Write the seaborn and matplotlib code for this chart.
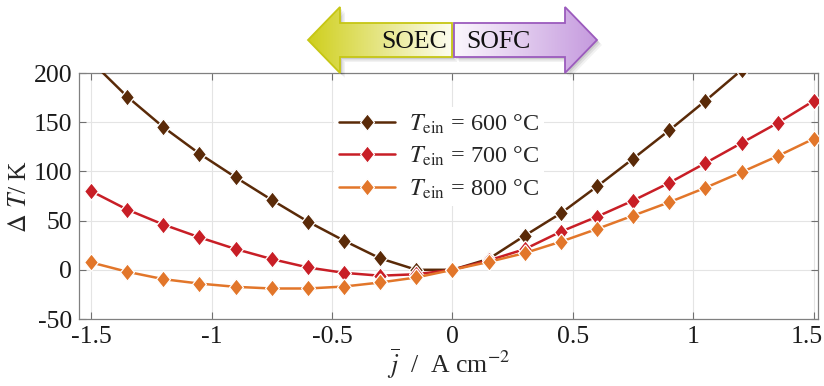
import numpy as np
import pandas as pd
import matplotlib
matplotlib.use("Agg")
import matplotlib.pyplot as plt
import matplotlib.transforms as mtransforms
from matplotlib.patches import Polygon
import seaborn as sns

# mean current density (negative: SOEC, positive: SOFC)
j_mean = [-1.5, -1.35, -1.2, -1.05, -0.9, -0.75, -0.6, -0.45, -0.3, -0.15, 0.0,
          0.15, 0.3, 0.45, 0.6, 0.75, 0.9, 1.05, 1.2, 1.35, 1.5]

# temperature rise over the cell for three inlet temperatures
dT_600 = [212, 176, 145, 118, 94, 71, 49, 29.6, 11.6, 0, 0,
          11, 34.7, 57.5, 84.7, 113, 141.8, 171.8, 203, 235, 267]
dT_700 = [80, 61.2, 46, 33, 21.1, 10.9, 2.4, -3.1, -6, -4.5, 0,
          9.5, 21, 38.8, 54, 70.4, 88.4, 108.5, 128.9, 149.3, 171.8]
dT_800 = [7.5, -2, -9.5, -14, -17.3, -19, -19, -17, -12.9, -7.8, 0,
          8, 17, 28.6, 41.5, 55.1, 68.7, 83.4, 99.3, 115.6, 133.3]

series_labels = [r"$T_\mathrm{ein}$ = 600 °C",
                 r"$T_\mathrm{ein}$ = 700 °C",
                 r"$T_\mathrm{ein}$ = 800 °C"]
colors = ["#5a2a08", "#c81e26", "#e2762a"]

x_ticks = [-1.5, -1, -0.5, 0, 0.5, 1, 1.5]
x_ticklabels = ["-1.5", "-1", "-0.5", "0", "0.5", "1", "1.5"]
y_ticks = [-50, 0, 50, 100, 150, 200]
y_ticklabels = ["-50", "0", "50", "100", "150", "200"]

sns.set_theme(style="white")
plt.rcParams["font.family"] = ["Liberation Serif", "DejaVu Serif"]
plt.rcParams["mathtext.fontset"] = "stix"

frames = []
for lab, vals in zip(series_labels, [dT_600, dT_700, dT_800]):
    frames.append(pd.DataFrame({"j": j_mean, "dT": vals, "case": lab}))
df = pd.concat(frames, ignore_index=True)

W, H = 824, 386
FS = 18.5
fig = plt.figure(figsize=(W / 100, H / 100), dpi=100)
ax = fig.add_axes([79 / W, 1 - 319 / H, (818 - 79) / W, (319 - 73) / H])

diamond = [(0, 1), (0.8, 0), (0, -1), (-0.8, 0), (0, 1)]
for lab, col in zip(series_labels, colors):
    sns.lineplot(data=df[df["case"] == lab], x="j", y="dT", ax=ax,
                 color=col, lw=1.8, marker=diamond, markersize=12.5,
                 markeredgecolor="white", markeredgewidth=0.9, label=lab,
                 zorder=3)

ax.set_xlim(-1.55, 1.517)
ax.set_ylim(-50, 200)
ax.set_xticks(x_ticks)
ax.set_xticklabels(x_ticklabels)
ax.set_yticks(y_ticks)
ax.set_yticklabels(y_ticklabels)
ax.tick_params(direction="in", length=5, width=0.8, color="#707070",
               labelsize=FS, labelcolor="#1a1a1a", top=True, right=True,
               bottom=True, left=True, pad=5)
ax.grid(True, color="#e4e4e4", lw=0.8, zorder=0)
for s in ax.spines.values():
    s.set_color("#808080")
    s.set_linewidth(0.9)

# keep the last tick label inside the canvas
last = ax.get_xticklabels()[-1]
last.set_transform(last.get_transform() +
                   mtransforms.ScaledTranslation(-7 / 100, 0, fig.dpi_scale_trans))

ax.set_xlabel(r"$\overline{j}$  /  A cm$^{-2}$", fontsize=FS, labelpad=-1)
ax.set_ylabel(r"$\Delta$ $T$/ K", fontsize=FS, labelpad=2)

leg = ax.legend(loc="upper left", bbox_to_anchor=(0.345, 0.86), fontsize=17.5,
                frameon=True, facecolor="white", edgecolor="none", framealpha=1,
                handlelength=2.3, handletextpad=0.6, labelspacing=0.38,
                borderpad=0.2, borderaxespad=0)
leg.set_zorder(5)

# direction arrows above the plot (pixel coordinates of the figure)
ov = fig.add_axes([0, 0, 1, 1], zorder=10)
ov.axis("off")

soec = [(452, 23), (340, 23), (340, 7), (308, 40), (340, 73), (340, 57), (452, 57)]
sofc = [(454, 23), (565, 23), (565, 7), (597, 40), (565, 73), (565, 57), (454, 57)]

# soft drop shadows
for k, a in [(5, 0.05), (3.5, 0.07), (2, 0.09)]:
    for pts in (soec, sofc):
        ov.add_patch(Polygon([(x + k, y + k) for x, y in pts], closed=True,
                             fc="black", ec="none", alpha=a))


def gradient_arrow(pts, c_left, c_right, edge):
    xs = [p[0] for p in pts]
    ys = [p[1] for p in pts]
    grad = np.linspace(0, 1, 256)[None, :, None]
    cl = np.array(matplotlib.colors.to_rgb(c_left))[None, None, :]
    cr = np.array(matplotlib.colors.to_rgb(c_right))[None, None, :]
    img = cl * (1 - grad) + cr * grad
    im = ov.imshow(np.repeat(img, 2, axis=0), extent=(min(xs), max(xs), max(ys), min(ys)),
                   aspect="auto", interpolation="bicubic", zorder=2)
    poly = Polygon(pts, closed=True, fc="none", ec=edge, lw=1.3, zorder=3)
    ov.add_patch(poly)
    im.set_clip_path(poly)


gradient_arrow(soec, "#cfcf1c", "#fdfdf0", "#c6c614")
gradient_arrow(sofc, "#fbf7fd", "#c59ade", "#9b5bbd")
ov.set_xlim(0, W)
ov.set_ylim(H, 0)

ov.text(447, 42, "SOEC", ha="right", va="center", fontsize=FS, color="#111111", zorder=4)
ov.text(466, 42, "SOFC", ha="left", va="center", fontsize=FS, color="#111111", zorder=4)

fig.savefig("out.png", dpi=100)
